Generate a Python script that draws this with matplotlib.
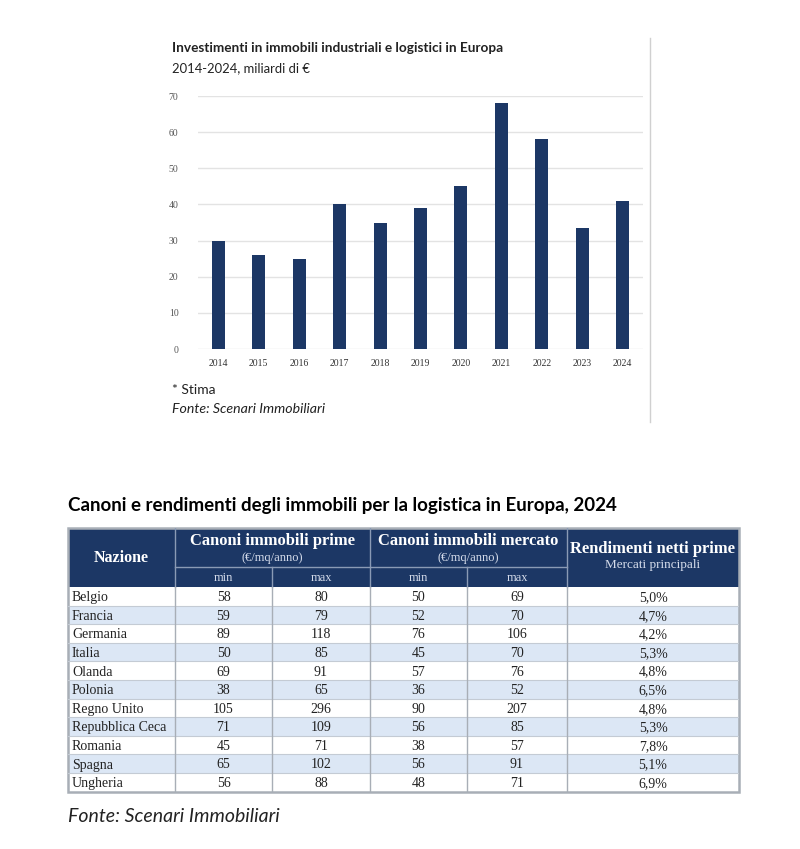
import matplotlib.pyplot as plt
from matplotlib.patches import Rectangle
from matplotlib.lines import Line2D

# bar chart data
anni = ['2014', '2015', '2016', '2017', '2018', '2019', '2020', '2021', '2022', '2023', '2024']
investimenti = [30, 26, 25, 40, 35, 39, 45, 68, 58, 33.5, 41]

# table data
nazioni = ['Belgio', 'Francia', 'Germania', 'Italia', 'Olanda', 'Polonia', 'Regno Unito',
           'Repubblica Ceca', 'Romania', 'Spagna', 'Ungheria']
prime_min = [58, 59, 89, 50, 69, 38, 105, 71, 45, 65, 56]
prime_max = [80, 79, 118, 85, 91, 65, 296, 109, 71, 102, 88]
mercato_min = [50, 52, 76, 45, 57, 36, 90, 56, 38, 56, 48]
mercato_max = [69, 70, 106, 70, 76, 52, 207, 85, 57, 91, 71]
rendimenti = ['5,0%', '4,7%', '4,2%', '5,3%', '4,8%', '6,5%', '4,8%', '5,3%', '7,8%', '5,1%', '6,9%']

NAVY = '#1c3765'
W, H = 800, 849

fig = plt.figure(figsize=(8, 8.49), dpi=100)
fig.patch.set_facecolor('white')

def fx(px):
    return px / W

def fy(py):
    return 1 - py / H

# ---- bar chart ----
ax = fig.add_axes([fx(198), fy(349), fx(643) - fx(198), fy(96) - fy(349)])
x = range(len(anni))
ax.bar(x, investimenti, width=0.32, color=NAVY, zorder=3)
ax.set_xlim(-0.5, len(anni) - 0.5)
ax.set_ylim(0, 70)
ax.set_yticks(range(0, 71, 10))
ax.set_xticks(list(x))
ax.set_xticklabels(anni)
ax.grid(axis='y', color='#e3e3e3', linewidth=1, zorder=0)
for s in ax.spines.values():
    s.set_visible(False)
ax.tick_params(length=0)
ax.tick_params(axis='y', pad=14, labelsize=7, labelcolor='#555555')
ax.tick_params(axis='x', pad=7, labelsize=7, labelcolor='#333333')
for lab in ax.get_xticklabels() + ax.get_yticklabels():
    lab.set_fontfamily('Liberation Serif')

fig.text(fx(172), fy(48), 'Investimenti in immobili industriali e logistici in Europa',
         fontfamily='Lato', fontweight='bold', fontsize=9.8, color='#222222', va='center')
fig.text(fx(172), fy(68), '2014-2024, miliardi di €',
         fontfamily='Lato', fontsize=9.4, color='#222222', va='center')
fig.text(fx(172), fy(390), '* Stima', fontfamily='Lato', fontsize=10, color='#222222', va='center')
fig.text(fx(172), fy(409), 'Fonte: Scenari Immobiliari', fontfamily='Lato', fontstyle='italic',
         fontsize=10.2, color='#222222', va='center')
fig.add_artist(Line2D([fx(650), fx(650)], [fy(38), fy(422)], color='#d0d0d0', linewidth=1))

# ---- table ----
fig.text(fx(68), fy(506), 'Canoni e rendimenti degli immobili per la logistica in Europa, 2024',
         fontfamily='Lato', fontweight='bold', fontsize=13.5, color='black', va='center')

col_edges = [0, 107, 204, 302, 399, 499, 671]
h_top, h_sub = 39, 20
row_h = 18.6
n = len(nazioni)
tot_h = h_top + h_sub + n * row_h

tx = fig.add_axes([fx(68), fy(528 + tot_h), fx(68 + 671) - fx(68), fy(528) - fy(528 + tot_h)])
tx.set_xlim(0, 671)
tx.set_ylim(tot_h, 0)
tx.axis('off')

serif = 'Liberation Serif'
hdr_line = '#8a9ab5'
sub_col = '#d5dceb'

# header backgrounds
tx.add_patch(Rectangle((0, 0), 671, h_top + h_sub, facecolor=NAVY, edgecolor='none'))
# header separators
for xe in [col_edges[1], col_edges[3], col_edges[5]]:
    tx.plot([xe, xe], [0, h_top + h_sub], color=hdr_line, lw=1)
for xe in [col_edges[2], col_edges[4]]:
    tx.plot([xe, xe], [h_top, h_top + h_sub], color=hdr_line, lw=1)
tx.plot([col_edges[1], col_edges[5]], [h_top, h_top], color=hdr_line, lw=1)

def cx(i, j):
    return (col_edges[i] + col_edges[j]) / 2

tx.text(cx(0, 1), (h_top + h_sub) / 2, 'Nazione', color='white', fontfamily=serif,
        fontweight='bold', fontsize=11.5, ha='center', va='center')
for (a, b, title) in [(1, 3, 'Canoni immobili prime'), (3, 5, 'Canoni immobili mercato')]:
    tx.text(cx(a, b), 13, title, color='white', fontfamily=serif, fontweight='bold',
            fontsize=11.9, ha='center', va='center')
    tx.text(cx(a, b), 30, '(€/mq/anno)', color=sub_col, fontfamily=serif,
            fontsize=9, ha='center', va='center')
    tx.text(cx(a, a + 1), h_top + 14, 'min', color=sub_col, fontfamily=serif,
            fontsize=9, ha='center', va='baseline')
    tx.text(cx(a + 1, b), h_top + 14, 'max', color=sub_col, fontfamily=serif,
            fontsize=9, ha='center', va='baseline')
tx.text(cx(5, 6), 21, 'Rendimenti netti prime', color='white', fontfamily=serif,
        fontweight='bold', fontsize=11.9, ha='center', va='center')
tx.text(cx(5, 6), 37, 'Mercati principali', color=sub_col, fontfamily=serif,
        fontsize=9.5, ha='center', va='center')

# body rows
y0 = h_top + h_sub
for i in range(n):
    top = y0 + i * row_h
    fc = '#dce7f5' if i % 2 == 1 else 'white'
    tx.add_patch(Rectangle((0, top), 671, row_h, facecolor=fc, edgecolor='none'))
    tx.plot([0, 671], [top + row_h, top + row_h], color='#c4cbd4', lw=0.8)
    yb = top + row_h - 4.5
    tx.text(4, yb, nazioni[i], fontfamily=serif, fontsize=10, color='#222222', va='baseline')
    vals = [prime_min[i], prime_max[i], mercato_min[i], mercato_max[i], rendimenti[i]]
    for k, v in enumerate(vals):
        tx.text(cx(k + 1, k + 2), yb, str(v), fontfamily=serif, fontsize=10,
                color='#222222', ha='center', va='baseline')
for xe in col_edges[1:-1]:
    tx.plot([xe, xe], [y0, tot_h], color='#a8aeb6', lw=1)
tx.add_patch(Rectangle((0, 0), 671, tot_h, facecolor='none', edgecolor='#a8aeb6', lw=1.8,
                       clip_on=False))

fig.text(fx(68), fy(817), 'Fonte: Scenari Immobiliari', fontfamily='Lato', fontstyle='italic',
         fontsize=14, color='#222222', va='center')

fig.savefig('out.png', dpi=100, facecolor='white')
